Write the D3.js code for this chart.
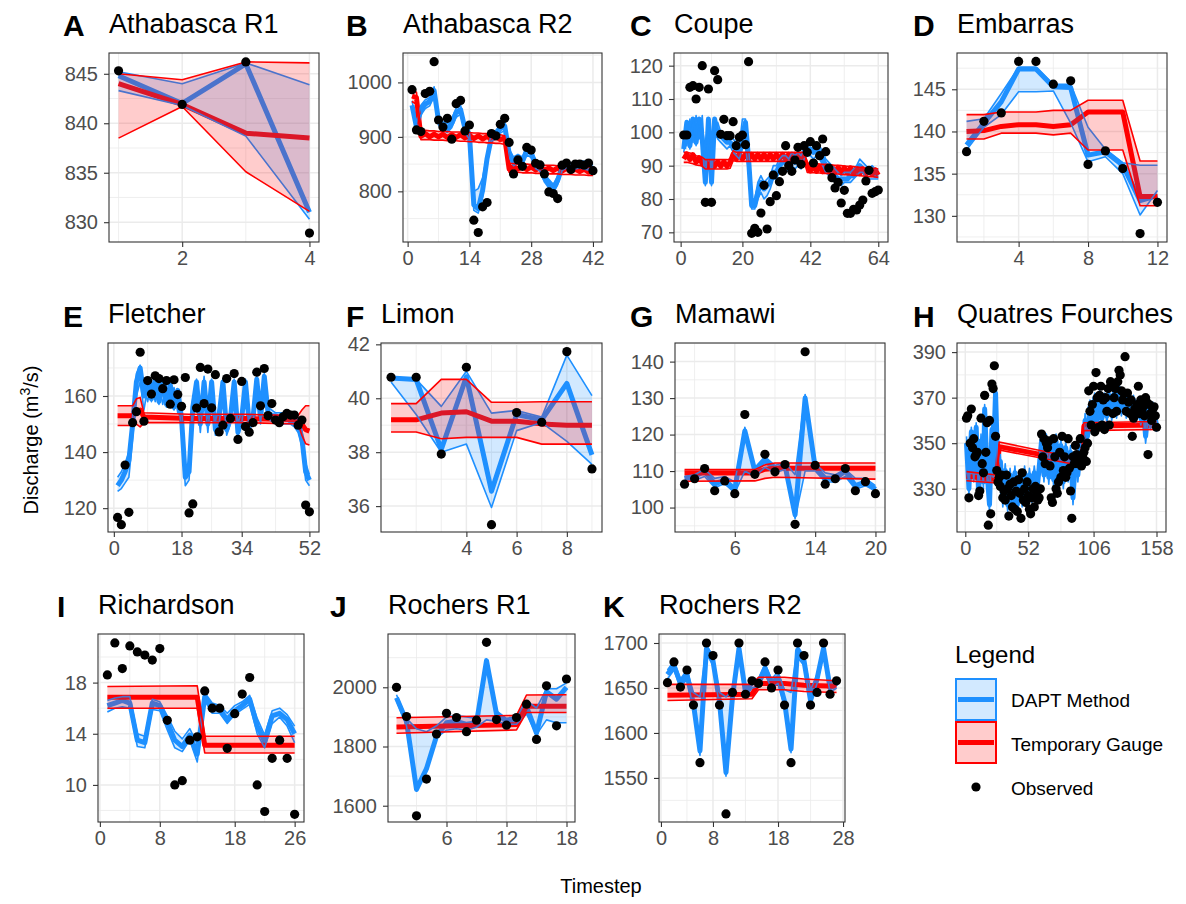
<!DOCTYPE html>
<html>
<head>
<meta charset="utf-8">
<script src="https://cdn.jsdelivr.net/npm/d3@7"></script>
<style>
  body { margin: 0; background: #fff; }
  svg { font-family: "Liberation Sans", Arial, sans-serif; }
</style>
</head>
<body>
<svg id="chart" width="1186" height="904"></svg>
<script>
// ---- data: observed values at t = 1..n, model rows are [t, lower, middle, upper] ----
const aObs = [845.3, 841.9, 846.2, 828.9];
const aDapt = [[1, 843.3, 844.8, 845.2], [2, 841.8, 842.0, 844.0], [3, 838.7, 846.0, 846.1], [4, 830.3, 831.0, 843.9]];
const aGauge = [[1, 838.5, 844.0, 845.0], [2, 841.7, 841.9, 844.4], [3, 835.1, 839.0, 846.2], [4, 831.1, 838.5, 846.1]];

const bObs = [986.7, 912.7, 909.8, 979.5, 983.7, 1038, 931, 918, 934, 895.8, 961, 967, 911, 921.8, 747, 724.4, 771.6, 779.5, 906, 902, 923, 934, 889.8, 832, 857.6, 846, 880.7, 875.8, 851.6, 848.5, 832, 798.9, 796, 786.7, 848, 852, 840, 850, 850, 848, 852, 838];
const bDapt = [[1, 950, 958, 966], [2, 910, 918, 926], [3, 940, 950, 958], [4, 952, 960, 968], [5, 957, 965, 972], [6, 975, 985, 992], [7, 922, 930, 938], [8, 912, 920, 928], [9, 908, 915, 924], [10, 917, 925, 933], [11, 936, 945, 953], [12, 942, 950, 958], [13, 907, 915, 923], [14, 896, 905, 912], [15, 765, 775, 800], [16, 760, 768, 805], [17, 790, 802, 825], [18, 850, 860, 868], [19, 892, 900, 908], [20, 897, 905, 912], [21, 907, 915, 922], [22, 912, 920, 928], [23, 862, 870, 878], [24, 847, 855, 863], [25, 852, 860, 868], [26, 847, 855, 863], [27, 867, 875, 882], [28, 862, 870, 877], [29, 842, 850, 858], [30, 837, 845, 852], [31, 817, 825, 833], [32, 806, 814, 822], [33, 797, 805, 813], [34, 812, 820, 828], [35, 838, 845, 852], [36, 843, 850, 856], [37, 838, 845, 852], [38, 841, 848, 855], [39, 843, 850, 856], [40, 841, 848, 855], [41, 839, 846, 853], [42, 835, 842, 849]];
const bGauge = [[1, 965, 975, 985], [2, 960, 972, 982], [3, 895, 901, 912], [4, 895, 906, 912], [5, 895, 900, 911], [6, 894, 905, 911], [7, 894, 900, 910], [8, 894, 905, 910], [9, 893, 899, 910], [10, 893, 904, 909], [11, 893, 899, 909], [12, 892, 904, 909], [13, 892, 898, 908], [14, 891, 903, 908], [15, 891, 897, 907], [16, 890, 902, 907], [17, 890, 896, 906], [18, 889, 901, 906], [19, 889, 895, 905], [20, 888, 900, 905], [21, 888, 895, 904], [22, 886, 898, 902],
  [23, 835, 841, 851], [24, 835, 846, 851], [25, 835, 841, 850], [26, 834, 845, 850], [27, 834, 840, 850], [28, 834, 845, 849], [29, 833, 839, 849], [30, 833, 844, 849], [31, 833, 839, 848], [32, 832, 843, 848], [33, 832, 838, 848], [34, 832, 843, 847], [35, 831, 837, 847], [36, 831, 842, 847], [37, 831, 837, 846], [38, 830, 841, 846], [39, 830, 836, 846], [40, 830, 841, 845], [41, 829, 835, 845], [42, 829, 840, 844]];

const cObs = [99.2, 99.2, 113.5, 114, 110, 113.5, 120, 79, 113, 79, 118.5, 115.8, 99.4, 103.9, 99, 99, 103.2, 96, 98.5, 99.2, 96.3, 121.2, 69.7, 71.2, 70, 75.8, 84.1, 71, 79.2, 87.2, 81, 85.2, 88.3, 96, 90, 88.3, 91.7, 95.5, 90.4, 96, 94, 97.2, 90.8, 96, 93, 98, 94.2, 89.3, 86.4, 83.3, 85, 78.8, 82.6, 75.7, 75.7, 76.9, 76.7, 78.2, 79.7, 85.4, 88.6, 81.7, 82.2, 82.7];
const cDapt = [[1, 94, 95, 99], [2, 100, 103, 96], [3, 95, 96, 104], [4, 103, 104, 97], [5, 96, 97, 105], [6, 102, 104, 98], [7, 97, 98, 105], [8, 84, 85, 90], [9, 103, 104, 98], [10, 84, 85, 90], [11, 103, 104, 99], [12, 98, 99, 103], [13, 97, 99, 100], [14, 96, 98, 99], [15, 95, 97, 99], [16, 96, 97, 99], [17, 94, 96, 98], [18, 93, 95, 97], [19, 92, 94, 96], [20, 95, 99, 104], [21, 96, 103, 104], [22, 88, 92, 96], [23, 77, 78, 80], [24, 77, 78, 80], [25, 80, 82, 85], [26, 82, 85, 87], [27, 80, 83, 85], [28, 81, 84, 86], [29, 83, 85, 87], [30, 86, 88, 90], [31, 86, 88, 90], [32, 88, 90, 92], [33, 89, 91, 93], [34, 88, 91, 93], [35, 89, 91, 92], [36, 90, 92, 94], [37, 89, 91, 93], [38, 90, 92, 94], [39, 89, 91, 93], [40, 92, 94, 96], [41, 93, 95, 97], [42, 93, 95, 97], [43, 92, 94, 96], [44, 93, 95, 97], [45, 92, 94, 96], [46, 90, 92, 94], [47, 88, 90, 92], [48, 87, 89, 91], [49, 86, 88, 90], [50, 85, 87, 89], [51, 85, 86, 88], [52, 84, 86, 87], [53, 85, 86, 88], [54, 85, 86, 88], [55, 85, 87, 88], [56, 86, 87, 89], [57, 87, 88, 90], [58, 88, 90, 92], [59, 88, 89, 91], [60, 86, 88, 90], [61, 86, 88, 89], [62, 86, 88, 90], [63, 86, 87, 89], [64, 86, 87, 89]];
const cGauge = [[1, 91, 92, 94], [2, 91, 93.5, 94], [3, 90.8, 91.8, 93.8], [4, 90.6, 93.3, 93.6], [5, 90.2, 91, 93], [6, 90.1, 92.4, 92.8], [7, 89.8, 90.6, 92.5], [8, 89, 91.2, 91.8], [9, 89, 89.8, 91.8], [10, 89, 91.2, 91.8], [11, 89, 89.8, 91.8], [12, 89, 91.2, 91.8], [13, 89, 89.8, 91.8], [14, 89, 91.2, 91.8], [15, 89, 89.8, 91.8], [16, 89.2, 91, 92],
  [17, 91.5, 93.5, 94.5], [18, 91.3, 92, 94], [19, 91.3, 93.4, 94], [20, 91.3, 92, 94], [21, 91.3, 93.4, 94], [22, 91.3, 92, 94], [23, 91.3, 93.4, 94], [24, 91.3, 92, 94], [25, 91.3, 93.4, 94], [26, 91.3, 92, 94], [27, 91.3, 93.4, 94], [28, 91.3, 92, 94], [29, 91.3, 93.4, 94], [30, 91.3, 92, 94], [31, 91.3, 93.4, 94], [32, 91.3, 92, 94], [33, 91.3, 93.4, 94], [34, 91.3, 92, 94], [35, 91.3, 93.4, 94], [36, 91.3, 92, 94], [37, 91.3, 93.4, 94], [38, 91.3, 92, 94], [39, 91.3, 93.4, 94], [40, 91.3, 92.2, 94],
  [41, 88, 90, 90.8], [42, 87.9, 88.4, 90.7], [43, 87.9, 89.9, 90.7], [44, 87.8, 88.3, 90.6], [45, 87.8, 89.8, 90.5], [46, 87.7, 88.2, 90.4], [47, 87.7, 89.7, 90.4], [48, 87.6, 88.1, 90.3], [49, 87.6, 89.6, 90.2], [50, 87.5, 88, 90.1], [51, 87.5, 89.5, 90.1], [52, 87.4, 87.9, 90], [53, 87.3, 89.4, 89.9], [54, 87.3, 87.8, 89.8], [55, 87.2, 89.3, 89.8], [56, 87.1, 87.7, 89.7], [57, 87.1, 89.2, 89.6], [58, 87, 87.6, 89.5], [59, 86.9, 89.1, 89.4], [60, 86.8, 87.4, 89.3], [61, 86.7, 89, 89.3], [62, 86.7, 87.3, 89.2], [63, 86.6, 88.8, 89.1], [64, 86.5, 87.2, 89]];

const dObs = [137.6, 141.2, 142.2, 148.3, 148.3, 145.6, 146.0, 136.1, 137.7, 135.6, 127.9, 131.6];
const dDapt = [[1, 137.8, 138.4, 141.2], [2, 140.5, 141.0, 141.5], [3, 142.0, 143.5, 144.5], [4, 144.7, 147.4, 147.6], [5, 144.7, 147.4, 147.6], [6, 144.8, 145.3, 145.6], [7, 141.0, 145.2, 145.6], [8, 136.4, 137.2, 140.5], [9, 137.0, 137.6, 137.9], [10, 135.0, 136.0, 136.3], [11, 130.1, 131.8, 136.0], [12, 133.0, 132.4, 136.0]];
const dGauge = [[1, 139.1, 140.0, 142.0], [2, 139.1, 140.1, 142.0], [3, 139.8, 140.6, 142.3], [4, 139.8, 140.8, 142.3], [5, 139.8, 140.8, 142.3], [6, 139.6, 140.6, 142.5], [7, 139.8, 140.8, 142.5], [8, 137.8, 142.3, 143.7], [9, 137.8, 142.3, 143.7], [10, 137.8, 142.3, 143.7], [11, 131.2, 132.3, 136.5], [12, 131.2, 132.3, 136.5]];

const eObs = [116.7, 114.1, 135.4, 118.5, 150.5, 154.4, 175.6, 151.0, 165.5, 160.7, 167.2, 166.2, 162.6, 165.5, 157.1, 165.8, 160.5, 156.3, 166.6, 118.3, 121.5, 155.7, 170.2, 157.3, 169.6, 155.8, 167.6, 147.2, 149.6, 166.2, 152.0, 168.0, 144.5, 165.2, 149.1, 147.1, 150.5, 168.5, 156.5, 169.8, 153.0, 157.3, 151.4, 150.5, 152.6, 153.8, 153.2, 153.2, 149.6, 151.4, 121.1, 118.7];
const eDapt = [[1, 126, 128, 131], [2, 127, 130, 133], [3, 129, 133, 136], [4, 131, 137, 140], [5, 145, 150, 153], [6, 160, 165, 168], [7, 165, 170, 171], [8, 155, 160, 163], [9, 163, 165, 158], [10, 158, 159, 165], [11, 164, 166, 158], [12, 157, 158, 165], [13, 163, 165, 157], [14, 156, 157, 164], [15, 163, 164, 156], [16, 155, 156, 163], [17, 160, 162, 154], [18, 148, 152, 156], [19, 128, 131, 135], [20, 130, 133, 136], [21, 152, 156, 159], [22, 162, 165, 166], [23, 147, 150, 153], [24, 163, 165, 167], [25, 147, 150, 152], [26, 162, 165, 166], [27, 146, 148, 151], [28, 150, 153, 156], [29, 162, 165, 166], [30, 146, 148, 151], [31, 150, 152, 154], [32, 162, 165, 166], [33, 146, 147, 150], [34, 150, 152, 155], [35, 162, 165, 166], [36, 148, 150, 152], [37, 150, 152, 154], [38, 163, 166, 167], [39, 150, 152, 154], [40, 164, 167, 168], [41, 152, 154, 156], [42, 151, 153, 155], [43, 151, 153, 154], [44, 151, 152, 154], [45, 150, 152, 154], [46, 150, 152, 153], [47, 150, 151, 153], [48, 149, 151, 152], [49, 147, 150, 152], [50, 142, 145, 148], [51, 130, 133, 136], [52, 128, 130, 132]];
const eGauge = [[1, 149.5, 153, 156.5], [5, 149.5, 153, 156.5], [6, 150, 154.5, 159], [7, 149, 155, 159.5], [8, 150.5, 152.5, 154], [20, 150.5, 152, 153.5], [35, 150.5, 152, 153.5], [49, 150, 151.5, 153], [50, 146, 150, 155], [51, 143, 148, 156.5], [52, 142.5, 147.5, 156.5]];

const fObs = [40.78, 40.78, 37.93, 41.15, 35.31, 39.47, 39.11, 41.73, 37.38];
const fDapt = [[1, 40.6, 40.75, 40.75], [2, 39.4, 40.7, 40.7], [3, 38.0, 38.1, 39.7], [4, 38.3, 40.8, 41.0], [5, 35.95, 36.55, 39.45], [6, 38.8, 39.4, 39.55], [7, 39.1, 39.2, 39.3], [8, 38.4, 40.55, 41.6], [9, 37.55, 37.9, 40.1]];
const fGauge = [[1, 38.75, 39.2, 39.8], [2, 38.75, 39.2, 39.8], [3, 38.5, 39.45, 40.7], [4, 38.55, 39.5, 40.7], [5, 38.55, 39.15, 39.85], [6, 38.55, 39.15, 39.85], [7, 38.3, 39.05, 39.87], [8, 38.3, 39.0, 39.87], [9, 38.3, 39.0, 39.87]];

const gObs = [106.4, 107.9, 110.7, 104.6, 107.3, 103.8, 125.5, 109.1, 114.6, 109.8, 111.8, 95.4, 142.7, 111.6, 106.4, 107.9, 110.7, 104.6, 107.1, 103.8];
const gDapt = [[1, 107, 108, 108.5], [2, 107.5, 108.5, 109], [3, 108.5, 110, 110.5], [4, 105.5, 106.5, 108], [5, 106.5, 107.5, 108.5], [6, 104, 105, 107], [7, 110, 121, 122], [8, 108.5, 110, 111], [9, 111, 113, 114], [10, 109.5, 110.5, 111.5], [11, 110.5, 111.5, 112.5], [12, 97, 98, 109], [13, 110, 130, 131], [14, 110, 111, 112], [15, 107, 108, 109.5], [16, 107, 108, 109], [17, 108.5, 110, 110.5], [18, 105, 106, 108], [19, 106, 107, 108], [20, 104.5, 105, 106]];
const gGauge = [[1, 107.2, 109.5, 110.4], [8, 107.3, 109.5, 110.4], [9, 108, 110.5, 111.7], [10, 108.3, 110.8, 112.2], [20, 107.8, 110.8, 112.2]];

const hObs = [361, 362, 326, 350, 365, 348, 352, 344, 345, 346, 327, 329, 361, 341, 337, 371, 346, 359, 314, 360, 319, 376, 374, 384, 353,
  338, 333, 335, 331, 336, 326, 329, 325, 336, 330, 318, 332, 327, 322, 333, 321, 329, 320, 334, 328, 317, 337, 325, 330, 324, 333, 327, 321, 319, 326, 330, 322, 331, 328, 325, 326, 330,
  354, 344, 352, 341, 350, 348, 351, 340, 326, 324, 352, 344, 330, 328, 333, 346, 335, 353, 338, 344, 335, 337, 352, 339, 329, 317, 344, 341, 349, 345, 341, 343, 352, 340, 344, 346, 348, 342, 350,
  373, 364, 358, 367, 375, 355, 381, 370, 357, 371, 375, 358, 369, 356, 370, 364, 374, 358, 377, 375, 363, 370, 374, 364, 377, 382, 380, 373, 369, 372, 388, 364, 372, 368, 363, 369, 353, 361, 365, 363, 367, 375, 363, 369, 364, 366, 362, 370, 368, 345, 367, 363, 360, 365, 366, 362, 357];
const hDapt = [[1, 347, 350, 353], [3, 327, 330, 333], [5, 352, 355, 357], [7, 333, 336, 339], [9, 354, 357, 359], [11, 326, 328, 331], [13, 348, 351, 354], [15, 330, 333, 336], [16, 361, 365, 367], [18, 334, 337, 340], [20, 320, 323, 326], [22, 352, 356, 359], [23, 335, 340, 344], [25, 368, 372, 374], [27, 333, 336, 339], [29, 339, 342, 345], [31, 322, 325, 328], [33, 335, 338, 341], [35, 320, 323, 326], [37, 333, 336, 339], [39, 321, 324, 327], [41, 334, 337, 340], [43, 320, 323, 326], [45, 332, 335, 338], [47, 322, 325, 328], [49, 334, 337, 340], [51, 322, 325, 328], [53, 333, 336, 339], [55, 324, 327, 330], [57, 334, 337, 340], [59, 325, 328, 331], [61, 336, 339, 342], [63, 347, 351, 353], [65, 333, 336, 339], [67, 348, 352, 354], [69, 332, 335, 338], [71, 347, 350, 353], [73, 331, 334, 337], [75, 348, 351, 354], [77, 330, 333, 336], [79, 346, 349, 352], [81, 330, 333, 336], [83, 345, 348, 351], [85, 333, 336, 339], [87, 343, 346, 349], [89, 323, 326, 329], [91, 340, 343, 346], [93, 333, 336, 339], [95, 345, 348, 351], [97, 340, 343, 346], [99, 357, 360, 363], [101, 350, 353, 356], [103, 362, 366, 369], [105, 355, 358, 361], [107, 366, 370, 372], [109, 357, 360, 363], [111, 367, 371, 373], [113, 358, 361, 364], [115, 366, 370, 372], [117, 359, 362, 365], [119, 367, 371, 373], [121, 360, 363, 366], [123, 368, 372, 374], [125, 361, 364, 367], [127, 370, 374, 376], [129, 362, 365, 368], [131, 368, 372, 374], [133, 361, 364, 367], [135, 367, 371, 373], [137, 360, 363, 366], [139, 366, 369, 371], [141, 359, 362, 365], [143, 364, 368, 370], [145, 358, 361, 364], [147, 363, 366, 369], [149, 350, 353, 356], [151, 360, 364, 367], [153, 356, 359, 362], [155, 362, 366, 368], [158, 355, 358, 361]];
const hGauge = [[1, 333.5, 335.5, 337.5], [26, 332.5, 334, 336], [28, 347, 348.5, 350.5], [92, 340.5, 342, 343.5], [96, 341, 342.5, 344], [98, 355.5, 357.5, 359], [158, 356, 358, 359.5]];

const iObs = [18.6, 21.1, 19.1, 20.87, 20.4, 20.15, 19.76, 20.66, 15.05, 10.0, 10.33, 13.5, 13.76, 17.35, 16.0, 16.0, 12.86, 15.57, 17.1, 18.4, 10.0, 7.92, 12.08, 13.5, 12.08, 7.7];
const iDapt = [[1, 15.7, 16.2, 16.6], [2, 16.0, 16.4, 16.8], [3, 16.1, 16.6, 16.9], [4, 16.0, 16.4, 16.9], [5, 13.0, 13.5, 14.0], [6, 12.9, 13.3, 13.8], [7, 15.9, 16.4, 16.7], [8, 15.8, 16.2, 16.5], [9, 14.3, 14.9, 15.4], [10, 12.9, 13.5, 14.2], [11, 12.6, 13.0, 13.6], [12, 13.5, 13.9, 14.4], [13, 11.8, 12.4, 13.2], [14, 16.6, 16.9, 17.2], [15, 15.6, 16.0, 16.4], [16, 15.6, 15.9, 16.2], [17, 14.8, 15.1, 15.6], [18, 15.5, 15.8, 16.2], [19, 15.9, 16.2, 16.5], [20, 16.3, 16.7, 17.0], [21, 14.0, 14.6, 15.2], [22, 12.9, 13.4, 13.9], [23, 14.8, 15.4, 15.8], [24, 15.3, 15.6, 16.0], [25, 14.6, 15.1, 15.5], [26, 13.3, 14.0, 14.6]];
const iGauge = [[1, 16.0, 16.85, 17.7], [13, 16.0, 16.85, 17.75], [14, 12.5, 13.1, 13.8], [26, 12.5, 13.1, 13.8]];

const jObs = [2000, 1901, 1566, 1690, 1842, 1912, 1898, 1850, 1889, 2152, 1891, 1872, 1898, 1943, 1824, 2005, 1870, 2028];
const jDapt = [[1, 1955, 1965, 1975], [2, 1870, 1885, 1895], [3, 1650, 1655, 1860], [4, 1715, 1725, 1850], [5, 1830, 1835, 1870], [6, 1855, 1880, 1900], [7, 1860, 1885, 1905], [8, 1855, 1875, 1900], [9, 1865, 1880, 1895], [10, 1890, 2090, 2095], [11, 1885, 1910, 1920], [12, 1875, 1885, 1895], [13, 1875, 1890, 1900], [14, 1910, 1935, 1955], [15, 1840, 1845, 1930], [16, 1890, 1985, 1995], [17, 1880, 1960, 1995], [18, 1880, 2000, 2015]];
const jGauge = [[1, 1845, 1866, 1897], [13, 1856, 1874, 1905], [14, 1915, 1936, 1974], [18, 1915, 1936, 1975]];

const kObs = [1655.9, 1679, 1651, 1670, 1631, 1567, 1700, 1686, 1631, 1510, 1645, 1700, 1643, 1658, 1655, 1679, 1650, 1670, 1631, 1567, 1700, 1686, 1631, 1645, 1700, 1643, 1658];
const kDapt = [[1, 1660, 1665, 1670], [2, 1670, 1675, 1680], [3, 1650, 1655, 1660], [4, 1660, 1665, 1670], [5, 1627, 1632, 1645], [6, 1575, 1580, 1640], [7, 1688, 1694, 1698], [8, 1675, 1680, 1685], [9, 1630, 1635, 1645], [10, 1552, 1556, 1640], [11, 1636, 1640, 1648], [12, 1688, 1694, 1698], [13, 1640, 1645, 1650], [14, 1650, 1656, 1660], [15, 1652, 1656, 1660], [16, 1665, 1672, 1677], [17, 1650, 1655, 1660], [18, 1655, 1662, 1668], [19, 1630, 1635, 1648], [20, 1578, 1582, 1645], [21, 1684, 1692, 1697], [22, 1675, 1680, 1685], [23, 1632, 1636, 1648], [24, 1655, 1660, 1665], [25, 1688, 1694, 1698], [26, 1645, 1650, 1656], [27, 1650, 1655, 1660]];
const kGauge = [[1, 1636, 1642, 1654], [14, 1638, 1643, 1654], [15, 1648, 1655, 1662], [19, 1648, 1655, 1662], [22, 1646, 1653, 1660], [27, 1645, 1652, 1658]];

const letters = ["A", "B", "C", "D", "E", "F", "G", "H", "I", "J", "K"];
const titles = ["Athabasca R1", "Athabasca R2", "Coupe", "Embarras", "Fletcher", "Limon", "Mamawi", "Quatres Fourches", "Richardson", "Rochers R1", "Rochers R2"];
const xTickSets = [[2, 4], [0, 14, 28, 42], [0, 20, 42, 64], [4, 8, 12], [0, 18, 34, 52], [4, 6, 8], [6, 14, 20], [0, 52, 106, 158], [0, 8, 18, 26], [6, 12, 18], [0, 8, 18, 28]];
const yTickSets = [[830, 835, 840, 845], [800, 900, 1000], [70, 80, 90, 100, 110, 120], [130, 135, 140, 145], [120, 140, 160], [36, 38, 40, 42], [100, 110, 120, 130, 140], [330, 350, 370, 390], [10, 14, 18], [1600, 1800, 2000], [1550, 1600, 1650, 1700]];
const yRanges = [[828.0, 847.1], [707, 1054], [67.1, 123.8], [126.9, 149.3], [111.5, 178.9], [35.04, 42.05], [93.3, 145.1], [311, 394], [7.1, 21.8], [1545, 2180], [1501, 1710]];
const legendLabels = ["DAPT Method", "Temporary Gauge", "Observed"];

const series = [
  [aObs, aDapt, aGauge], [bObs, bDapt, bGauge], [cObs, cDapt, cGauge], [dObs, dDapt, dGauge],
  [eObs, eDapt, eGauge], [fObs, fDapt, fGauge], [gObs, gDapt, gGauge], [hObs, hDapt, hGauge],
  [iObs, iDapt, iGauge], [jObs, jDapt, jGauge], [kObs, kDapt, kGauge]
];

// ---- layout ----
const boxes = [
  [109, 319, 53, 242], [403, 602, 53, 242], [674, 888, 53, 242], [957, 1167, 53, 242],
  [108, 319, 343, 532], [381, 602, 343, 532], [675, 885, 343, 532], [957, 1166, 343, 532],
  [98, 304, 634, 822], [388, 575, 634, 822], [659, 845, 634, 822]
];
const letterX = [63, 346, 630, 913, 63, 346, 630, 913, 57, 330, 603];
const titleY = [33, 323, 614];
const letterY = [36, 326.5, 617];

const blue = "#1E90FF", red = "#FF0000";
const blueFill = "rgba(30,144,255,0.2)", redFill = "rgba(255,0,0,0.2)";

const svg = d3.select("#chart");
svg.append("rect").attr("width", 1186).attr("height", 904).attr("fill", "#fff");

function minorBreaks(ticks, dom) {
  const m = ticks.length;
  const ext = [2 * ticks[0] - ticks[1], ...ticks, 2 * ticks[m - 1] - ticks[m - 2]];
  const out = [ext[0], ext[ext.length - 1]];
  for (let i = 0; i < ext.length - 1; i++) out.push((ext[i] + ext[i + 1]) / 2);
  const [lo, hi] = d3.extent(dom);
  return out.filter(v => v >= lo && v <= hi && !ticks.includes(v));
}

function drawPanel(i) {
  const [obs, dapt, gauge] = series[i];
  const [x0, x1, y0, y1] = boxes[i];
  const n = obs.length;
  const pad = (n - 1) * 0.05;
  const xDom = [1 - pad, n + pad];
  const x = d3.scaleLinear().domain(xDom).range([x0, x1]);
  const y = d3.scaleLinear().domain(yRanges[i]).range([y1, y0]);
  const row = Math.floor(i / 4);

  const g = svg.append("g");
  g.append("clipPath").attr("id", "clip" + i)
    .append("rect").attr("x", x0).attr("y", y0).attr("width", x1 - x0).attr("height", y1 - y0);

  // grid
  const grid = g.append("g");
  minorBreaks(xTickSets[i], xDom).forEach(v => {
    grid.append("line").attr("x1", x(v)).attr("x2", x(v)).attr("y1", y0).attr("y2", y1)
      .attr("stroke", "#EBEBEB").attr("stroke-width", 0.8);
  });
  minorBreaks(yTickSets[i], yRanges[i]).forEach(v => {
    grid.append("line").attr("x1", x0).attr("x2", x1).attr("y1", y(v)).attr("y2", y(v))
      .attr("stroke", "#EBEBEB").attr("stroke-width", 0.8);
  });
  xTickSets[i].forEach(v => {
    grid.append("line").attr("x1", x(v)).attr("x2", x(v)).attr("y1", y0).attr("y2", y1)
      .attr("stroke", "#EBEBEB").attr("stroke-width", 1.5);
  });
  yTickSets[i].forEach(v => {
    grid.append("line").attr("x1", x0).attr("x2", x1).attr("y1", y(v)).attr("y2", y(v))
      .attr("stroke", "#EBEBEB").attr("stroke-width", 1.5);
  });

  const plot = g.append("g").attr("clip-path", `url(#clip${i})`);
  const mid = d3.line().x(d => x(d[0])).y(d => y(d[2]));
  const lower = d3.line().x(d => x(d[0])).y(d => y(d[1]));
  const upper = d3.line().x(d => x(d[0])).y(d => y(d[3]));
  const band = d3.area().x(d => x(d[0])).y0(d => y(d[1])).y1(d => y(d[3]));

  // thick middle lines first, ribbons laid over them
  [[dapt, blue], [gauge, red]].forEach(([rows, col]) => {
    plot.append("path").datum(rows).attr("d", mid)
      .attr("fill", "none").attr("stroke", col).attr("stroke-width", 5)
      .attr("stroke-linejoin", "round").attr("stroke-linecap", "butt");
  });
  [[dapt, blue, blueFill], [gauge, red, redFill]].forEach(([rows, col, fill]) => {
    plot.append("path").datum(rows).attr("d", band).attr("fill", fill).attr("stroke", "none");
    [lower, upper].forEach(fn => {
      plot.append("path").datum(rows).attr("d", fn)
        .attr("fill", "none").attr("stroke", col).attr("stroke-width", 1.6)
        .attr("stroke-linejoin", "round");
    });
  });

  plot.selectAll("circle.obs").data(obs).enter().append("circle")
    .attr("class", "obs")
    .attr("cx", (d, k) => x(k + 1)).attr("cy", d => y(d))
    .attr("r", 4.6).attr("fill", "#000");

  // axes
  const ax = g.append("g").attr("transform", `translate(0,${y1})`)
    .call(d3.axisBottom(x).tickValues(xTickSets[i]).tickSize(5).tickPadding(4).tickFormat(d3.format("d")));
  const ay = g.append("g").attr("transform", `translate(${x0},0)`)
    .call(d3.axisLeft(y).tickValues(yTickSets[i]).tickSize(5).tickPadding(6).tickFormat(d3.format("d")));
  [ax, ay].forEach(a => {
    a.select(".domain").remove();
    a.selectAll(".tick line").attr("stroke", "#333333").attr("stroke-width", 1.1);
    a.selectAll(".tick text").attr("fill", "#4D4D4D").attr("font-size", 20)
      .attr("font-family", "Liberation Sans, Arial, sans-serif");
  });

  g.append("rect").attr("x", x0).attr("y", y0).attr("width", x1 - x0).attr("height", y1 - y0)
    .attr("fill", "none").attr("stroke", "#333333").attr("stroke-width", 1.1);

  g.append("text").attr("x", letterX[i]).attr("y", letterY[row])
    .attr("font-size", 30).attr("font-weight", "bold").text(letters[i]);
  g.append("text").attr("x", x0).attr("y", titleY[row])
    .attr("font-size", 27).text(titles[i]);
}

d3.range(series.length).forEach(drawPanel);

// axis titles
const yTitle = svg.append("text")
  .attr("transform", "translate(38,440) rotate(-90)")
  .attr("text-anchor", "middle").attr("font-size", 20);
yTitle.append("tspan").text("Discharge (m");
yTitle.append("tspan").attr("font-size", 14).attr("dy", -8).text("3");
yTitle.append("tspan").attr("dy", 8).text("/s)");

svg.append("text").attr("x", 601).attr("y", 893)
  .attr("text-anchor", "middle").attr("font-size", 20).text("Timestep");

// legend
const lg = svg.append("g");
lg.append("text").attr("x", 955).attr("y", 663).attr("font-size", 24).text("Legend");
[[blue, blueFill, 679], [red, redFill, 722]].forEach(([col, fill, top]) => {
  lg.append("rect").attr("x", 956).attr("y", top).attr("width", 40).attr("height", 41)
    .attr("fill", "#fff");
  lg.append("rect").attr("x", 956).attr("y", top).attr("width", 40).attr("height", 41)
    .attr("fill", fill).attr("stroke", col).attr("stroke-width", 2);
  lg.append("line").attr("x1", 958).attr("x2", 994).attr("y1", top + 20.5).attr("y2", top + 20.5)
    .attr("stroke", col).attr("stroke-width", 5);
});
lg.append("circle").attr("cx", 976).attr("cy", 787).attr("r", 4.6).attr("fill", "#000");
legendLabels.forEach((t, k) => {
  lg.append("text").attr("x", 1011).attr("y", [707, 751, 795][k]).attr("font-size", 19).text(t);
});
</script>
</body>
</html>
